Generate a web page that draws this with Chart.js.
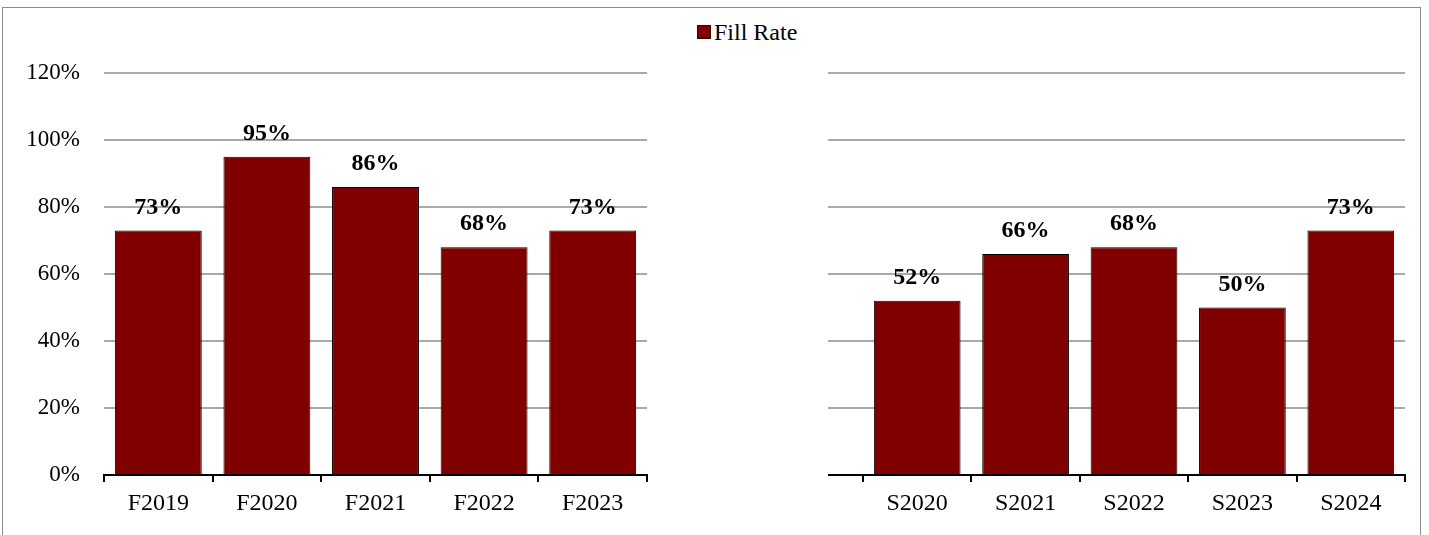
<!DOCTYPE html>
<html>
<head>
<meta charset="utf-8">
<script src="https://cdn.jsdelivr.net/npm/chart.js@4/dist/chart.umd.min.js"></script>
<style>
    body { margin: 0; background: #fff; overflow: hidden; }
    #wrap { position: relative; width: 1429px; height: 535px; overflow: hidden; font-family: "Liberation Serif", "Times New Roman", serif; }
    #frame { position: absolute; left: 2px; top: 7px; width: 1417px; height: 540px; border: 1px solid #8c8c8c; }
    #leftCanvas { position: absolute; left: 0; top: 0; }
    #rightCanvas { position: absolute; left: 800px; top: 0; }
    #legend { position: absolute; left: 697px; top: 19px; font-size: 24px; color: #000; white-space: nowrap; }
    #legend .box { display: inline-block; width: 12px; height: 12px; background: #800000; border: 1px solid #400000; margin-right: 3px; vertical-align: 1px; }
</style>
</head>
<body>
<div id="wrap">
    <div id="frame"></div>
    <canvas id="leftCanvas" width="650" height="535"></canvas>
    <canvas id="rightCanvas" width="620" height="535"></canvas>
    <div id="legend"><span class="box"></span>Fill Rate</div>
</div>
<script>
// Fall terms (left panel)
const fallTerms = ['F2019', 'F2020', 'F2021', 'F2022', 'F2023'];
const fallFillRate = [73, 95, 86, 68, 73];

// Spring terms (right panel)
const springTerms = ['S2020', 'S2021', 'S2022', 'S2023', 'S2024'];
const springFillRate = [52, 66, 68, 50, 73];

// Shared y axis
const yMin = 0;
const yMax = 120;
const yStep = 20;

const seriesName = 'Fill Rate';
const FONT = '"Liberation Serif", "Times New Roman", serif';

// Draws the bold value labels above each bar
const valueLabels = {
    id: 'valueLabels',
    afterDatasetsDraw(chart) {
        const ctx = chart.ctx;
        const meta = chart.getDatasetMeta(0);
        const data = chart.data.datasets[0].data;
        ctx.save();
        ctx.font = 'bold 24px ' + FONT;
        ctx.fillStyle = '#000';
        ctx.textAlign = 'center';
        ctx.textBaseline = 'bottom';
        meta.data.forEach(function(bar, i) {
            ctx.fillText(Math.round(data[i]) + '%', bar.x, bar.y - 11);
        });
        ctx.restore();
    }
};

function gridColor(context) {
    return context.tick && context.tick.value === 0 ? '#000' : '#a9a9a9';
}

function makeChart(canvasId, labels, values, showYLabels) {
    const ctx = document.getElementById(canvasId).getContext('2d');
    return new Chart(ctx, {
        type: 'bar',
        data: {
            labels: labels,
            datasets: [{
                label: seriesName,
                data: values,
                backgroundColor: '#800000',
                borderColor: '#000',
                borderWidth: 1,
                barPercentage: 0.8,
                categoryPercentage: 1.0
            }]
        },
        options: {
            responsive: false,
            animation: false,
            layout: {
                padding: { top: 73, left: showYLabels ? 0 : 28, right: showYLabels ? 3 : 15, bottom: 0 }
            },
            plugins: {
                legend: { display: false },
                tooltip: { enabled: false }
            },
            scales: {
                x: {
                    offset: true,
                    grid: {
                        offset: true,
                        drawOnChartArea: false,
                        drawTicks: true,
                        tickLength: 7,
                        color: '#000',
                        lineWidth: 2
                    },
                    border: { display: true, color: '#000', width: 2 },
                    ticks: {
                        color: '#000',
                        font: { family: FONT, size: 24 },
                        padding: 7,
                        maxRotation: 0
                    },
                    afterFit: function(scale) { scale.height = 60; }
                },
                y: {
                    min: yMin,
                    max: yMax,
                    border: { display: false },
                    grid: {
                        color: gridColor,
                        lineWidth: 2,
                        drawTicks: !showYLabels,
                        tickLength: 35
                    },
                    ticks: {
                        display: showYLabels,
                        stepSize: yStep,
                        color: '#000',
                        font: { family: FONT, size: 23 },
                        padding: 24,
                        callback: function(v) { return v + '%'; }
                    },
                    afterFit: function(scale) { scale.width = showYLabels ? 104 : 35; }
                }
            }
        },
        plugins: [valueLabels]
    });
}

window.fallChart = makeChart('leftCanvas', fallTerms, fallFillRate, true);
window.springChart = makeChart('rightCanvas', springTerms, springFillRate, false);
</script>
</body>
</html>
